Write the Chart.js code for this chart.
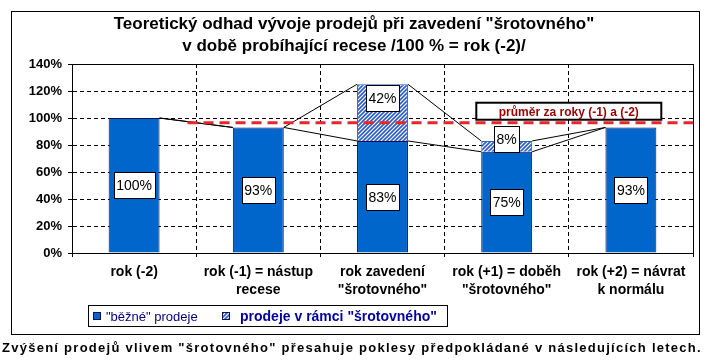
<!DOCTYPE html>
<html>
<head>
<meta charset="utf-8">
<script src="https://cdn.jsdelivr.net/npm/chart.js@4.4.1/dist/chart.umd.min.js"></script>
<style>
  html, body { margin: 0; padding: 0; background: #fff; }
  #wrap { width: 709px; height: 362px; }
</style>
</head>
<body>
<div id="wrap"><canvas id="chart" width="709" height="362"></canvas></div>
<script>
const titleLines = ['Teoretický odhad vývoje prodejů při zavedení "šrotovného"', 'v době probíhající recese /100 % = rok (-2)/'];
const categories = [
  ['rok (-2)'],
  ['rok (-1) = nástup', 'recese'],
  ['rok zavedení', '"šrotovného"'],
  ['rok (+1) = doběh', '"šrotovného"'],
  ['rok (+2) = návrat', 'k normálu']
];
const normalSales = [100, 93, 83, 75, 93];
const scrapSales = [0, 0, 42, 8, 0];
const legendLabels = ['"běžné" prodeje', 'prodeje v rámci "šrotovného"'];
const avgLabel = 'průměr za roky (-1) a (-2)';
const avgValue = 96.5;
const avgSpan = [0.93, 5];  // on the hidden 0..5 axis
const avgLabelAt = 4.0;
const caption = 'Zvýšení prodejů vlivem "šrotovného" přesahuje poklesy předpokládané v následujících letech.';

const FONT = '"Liberation Sans", Arial, sans-serif';
const BLUE = '#0066cc';
const EDGE = '#101050';

const canvas = document.getElementById('chart');
const ctx = canvas.getContext('2d');

function hatch() {
  const c = document.createElement('canvas');
  c.width = 4; c.height = 4;
  const g = c.getContext('2d');
  g.fillStyle = '#fff';
  g.fillRect(0, 0, 4, 4);
  g.strokeStyle = '#2f5fc8';
  g.lineWidth = 1.7;
  g.beginPath();
  g.moveTo(0, 4); g.lineTo(4, 0);
  g.moveTo(-1, 1); g.lineTo(1, -1);
  g.moveTo(3, 5); g.lineTo(5, 3);
  g.stroke();
  return ctx.createPattern(c, 'repeat');
}
const hatchFill = hatch();

// lines joining the stack tops of neighbouring bars
const seriesLines = {
  id: 'seriesLines',
  beforeDatasetsDraw(chart) {
    const c = chart.ctx;
    const metas = [chart.getDatasetMeta(0), chart.getDatasetMeta(1)];
    c.save();
    c.strokeStyle = '#000';
    c.lineWidth = 1;
    metas.forEach(meta => {
      for (let i = 0; i < meta.data.length - 1; i++) {
        const a = meta.data[i], b = meta.data[i + 1];
        c.beginPath();
        c.moveTo(a.x + a.width / 2, a.y);
        c.lineTo(b.x - b.width / 2, b.y);
        c.stroke();
      }
    });
    c.restore();
  }
};

function labelBox(c, text, cx, cy) {
  c.font = '14px ' + FONT;
  const w = Math.round(c.measureText(text).width + 5);
  const h = 26;
  const x = Math.round(cx - w / 2) + 0.5, y = Math.round(cy - h / 2) + 0.5;
  c.fillStyle = '#fff';
  c.fillRect(x, y, w, h);
  c.strokeStyle = '#000';
  c.lineWidth = 1;
  c.strokeRect(x, y, w, h);
  c.fillStyle = '#000';
  c.textAlign = 'center';
  c.textBaseline = 'middle';
  c.fillText(text, cx, cy + 1);
}

const labels = {
  id: 'labels',
  afterDatasetsDraw(chart) {
    const c = chart.ctx;
    c.save();
    chart.getDatasetMeta(0).data.forEach((el, i) => {
      labelBox(c, normalSales[i] + '%', el.x, (el.y + el.base) / 2);
    });
    chart.getDatasetMeta(1).data.forEach((el, i) => {
      if (!scrapSales[i]) return;
      const hgt = el.base - el.y;
      const cy = hgt > 30 ? el.y + 14 : el.base - 13;
      labelBox(c, scrapSales[i] + '%', el.x, cy);
    });
    // average label
    const x2 = chart.scales.x2, y = chart.scales.y;
    const cx = x2.getPixelForValue(avgLabelAt);
    const by = y.getPixelForValue(avgValue) - 3;
    const bw = 185, bh = 17;
    c.fillStyle = '#fff';
    c.fillRect(cx - bw / 2, by - bh, bw, bh);
    c.strokeStyle = '#000';
    c.lineWidth = 2;
    c.strokeRect(cx - bw / 2, by - bh, bw, bh);
    c.fillStyle = '#990000';
    c.font = 'bold 12px ' + FONT;
    c.textAlign = 'center';
    c.textBaseline = 'middle';
    c.fillText(avgLabel, cx, by - bh / 2 + 1);
    c.restore();
  }
};

const frame = {
  id: 'frame',
  beforeDraw(chart) {
    const c = chart.ctx;
    c.save();
    c.fillStyle = '#fff';
    c.fillRect(0, 0, chart.width, chart.height);
    c.restore();
  },
  afterDraw(chart) {
    const c = chart.ctx;
    const a = chart.chartArea;
    c.save();
    c.strokeStyle = '#000';
    c.lineWidth = 1;
    c.strokeRect(Math.round(a.left) + 0.5, Math.round(a.top) + 0.5, Math.round(a.right - a.left), Math.round(a.bottom - a.top));
    // outer border
    c.strokeRect(11.5, 11.5, 688, 323);

    // title
    c.fillStyle = '#000';
    c.textAlign = 'center';
    c.textBaseline = 'middle';
    c.font = 'bold 17px ' + FONT;
    c.fillText(titleLines[0], 354, 24);
    c.fillText(titleLines[1], 354, 46);

    // legend
    c.strokeRect(88.5, 305.5, 359, 21);
    c.fillStyle = BLUE;
    c.fillRect(93, 312, 8, 8);
    c.strokeStyle = EDGE;
    c.strokeRect(93.5, 312.5, 7, 7);
    c.fillStyle = hatchFill;
    c.fillRect(222, 312, 8, 8);
    c.strokeRect(222.5, 312.5, 7, 7);
    c.textAlign = 'left';
    c.fillStyle = '#000080';
    c.font = '13px ' + FONT;
    c.fillText(legendLabels[0], 106, 317);
    c.fillStyle = '#0000a0';
    c.font = 'bold 14px ' + FONT;
    c.fillText(legendLabels[1], 240, 317);

    // caption
    c.fillStyle = '#000';
    c.font = 'bold 13px ' + FONT;
    const w = c.measureText(caption).width;
    c.letterSpacing = ((700 - w) / caption.length).toFixed(2) + 'px';
    c.fillText(caption, 2, 348);
    c.restore();
  }
};

new Chart(ctx, {
  type: 'bar',
  data: {
    labels: categories,
    datasets: [
      {
        label: legendLabels[0],
        data: normalSales,
        backgroundColor: BLUE,
        borderColor: EDGE,
        borderWidth: 1,
        grouped: false,
        categoryPercentage: 1,
        barPercentage: 0.41,
        order: 2
      },
      {
        label: legendLabels[1],
        data: scrapSales,
        backgroundColor: hatchFill,
        borderColor: '#2f5fc8',
        borderWidth: 1,
        grouped: false,
        categoryPercentage: 1,
        barPercentage: 0.41,
        order: 2
      },
      {
        type: 'line',
        label: avgLabel,
        xAxisID: 'x2',
        stack: 'avg',
        data: [{ x: avgSpan[0], y: avgValue }, { x: avgSpan[1], y: avgValue }],
        borderColor: '#e8242c',
        borderWidth: 3,
        borderDash: [10, 6],
        pointRadius: 0,
        fill: false,
        order: 1
      }
    ]
  },
  options: {
    responsive: false,
    animation: false,
    events: [],
    layout: { padding: { left: 0, right: 16, top: 64, bottom: 64 } },
    plugins: {
      legend: { display: false },
      title: { display: false },
      tooltip: { enabled: false }
    },
    scales: {
      x: {
        stacked: true,
        grid: { color: '#000', lineWidth: 1, tickLength: 4, tickColor: '#000' },
        border: { color: '#000', width: 1, dash: [4, 3] },
        ticks: {
          color: '#000',
          padding: 6,
          maxRotation: 0,
          autoSkip: false,
          font: { family: FONT, size: 14, weight: 'bold', lineHeight: 1.3 }
        },
        afterFit(scale) { scale.height = 45; }
      },
      x2: {
        type: 'linear',
        min: 0,
        max: 5,
        offset: false,
        display: false
      },
      y: {
        stacked: true,
        min: 0,
        max: 140,
        grid: { color: '#000', lineWidth: 1, tickLength: 4, tickColor: '#000' },
        border: { color: '#000', width: 1, dash: [4, 3] },
        ticks: {
          stepSize: 20,
          color: '#000',
          padding: 6,
          font: { family: FONT, size: 13, weight: 'bold' },
          callback: v => v + '%'
        },
        afterFit(scale) { scale.width = 72; }
      }
    }
  },
  plugins: [seriesLines, labels, frame]
});
</script>
</body>
</html>
